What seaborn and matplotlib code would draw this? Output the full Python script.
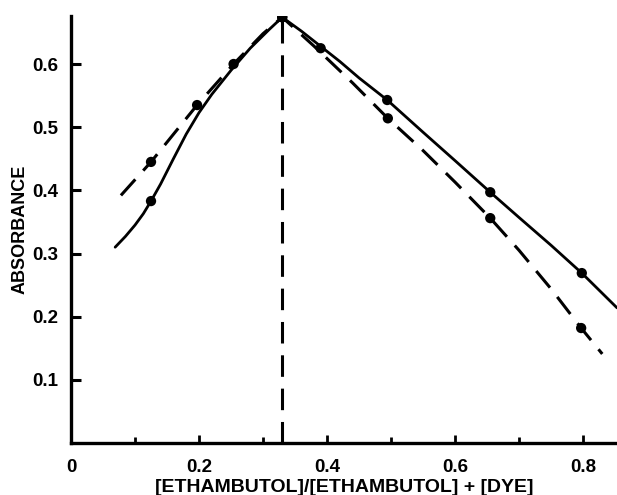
import matplotlib
matplotlib.use("Agg")
import matplotlib.pyplot as plt
import seaborn as sns
import pandas as pd
from matplotlib.ticker import FixedLocator

sns.set_theme(style="white")
plt.rcParams['font.family'] = ['Liberation Sans', 'DejaVu Sans']
plt.rcParams['font.weight'] = 'bold'
plt.rcParams['text.color'] = 'black'
plt.rcParams['axes.labelcolor'] = 'black'
plt.rcParams['xtick.color'] = 'black'
plt.rcParams['ytick.color'] = 'black'
plt.rcParams['lines.scale_dashes'] = False

# --- data ---
# solid curve (trace) and its measured points
solid_curve_x = [0.069, 0.085, 0.10, 0.113, 0.125, 0.14, 0.16, 0.18, 0.20, 0.22, 0.25, 0.28, 0.31, 0.33,
                 0.36, 0.39, 0.42, 0.45, 0.494, 0.55, 0.60, 0.655, 0.70, 0.75, 0.798, 0.853]
solid_curve_y = [0.310, 0.327, 0.345, 0.363, 0.383, 0.410, 0.450, 0.489, 0.523, 0.552, 0.590, 0.625, 0.655, 0.674,
                 0.652, 0.628, 0.604, 0.578, 0.543, 0.492, 0.447, 0.397, 0.357, 0.313, 0.269, 0.214]
solid_pts_x = [0.125, 0.33, 0.494, 0.655, 0.798]
solid_pts_y = [0.383, 0.674, 0.543, 0.397, 0.269]

# dashed curve (trace) and its measured points
dashed_curve_x = [0.078, 0.125, 0.197, 0.254, 0.30, 0.33, 0.38, 0.44, 0.495, 0.55, 0.60, 0.655,
                  0.70, 0.75, 0.797, 0.83]
dashed_curve_y = [0.392, 0.445, 0.535, 0.600, 0.648, 0.674, 0.628, 0.570, 0.514, 0.463, 0.413, 0.356,
                  0.305, 0.244, 0.182, 0.141]
dashed_pts_x = [0.125, 0.197, 0.254, 0.33, 0.39, 0.495, 0.655, 0.797]
dashed_pts_y = [0.445, 0.535, 0.600, 0.674, 0.625, 0.514, 0.356, 0.182]

job_x = 0.33  # vertical dashed line (stoichiometric ratio)

x_major = [0, 0.2, 0.4, 0.6, 0.8]
x_major_labels = ["0", "0.2", "0.4", "0.6", "0.8"]
x_minor = [0.1, 0.3, 0.5, 0.7]
y_major = [0.1, 0.2, 0.3, 0.4, 0.5, 0.6]
y_major_labels = ["0.1", "0.2", "0.3", "0.4", "0.5", "0.6"]

x_label = "[ETHAMBUTOL]/[ETHAMBUTOL] + [DYE]"
y_label = "ABSORBANCE"

# --- figure ---
fig = plt.figure(figsize=(6.17, 4.95), dpi=100)
ax = fig.add_axes([71/617, 52/495, (617-71)/617, (443-16)/495])

solid_df = pd.DataFrame({"x": solid_curve_x, "y": solid_curve_y})
dashed_df = pd.DataFrame({"x": dashed_curve_x, "y": dashed_curve_y})

sns.lineplot(data=solid_df, x="x", y="y", sort=False, estimator=None,
             color="black", linewidth=2.0, ax=ax)
sns.lineplot(data=dashed_df, x="x", y="y", sort=False, estimator=None,
             color="black", linewidth=2.2, ax=ax)
ax.lines[-1].set_dashes((15.5, 8.5))
for ln in ax.lines:
    ln.set_solid_capstyle("round")
    ln.set_solid_joinstyle("round")

sns.scatterplot(x=solid_pts_x, y=solid_pts_y, color="black", s=55,
                edgecolor="none", ax=ax, zorder=5)
sns.scatterplot(x=dashed_pts_x, y=dashed_pts_y, color="black", s=55,
                edgecolor="none", ax=ax, zorder=5)

vl = ax.axvline(job_x, color="black", linewidth=2.2)
vl.set_dashes((15.5, 8.5))

ax.set_xlim(0, 0.853)
ax.set_ylim(0, 0.676)

for s in ["top", "right"]:
    ax.spines[s].set_visible(False)
for s in ["left", "bottom"]:
    ax.spines[s].set_linewidth(2.4)
    ax.spines[s].set_color("black")

ax.xaxis.set_major_locator(FixedLocator(x_major))
ax.set_xticklabels(x_major_labels)
ax.xaxis.set_minor_locator(FixedLocator(x_minor))
ax.yaxis.set_major_locator(FixedLocator(y_major))
ax.set_yticklabels(y_major_labels)

ax.tick_params(axis="x", which="major", direction="in", length=6, width=2,
               labelsize=13.5, pad=11.5, colors="black", bottom=True)
ax.tick_params(axis="x", which="minor", direction="in", length=4.5, width=2,
               bottom=True)
ax.tick_params(axis="y", which="major", direction="in", length=7, width=2.2,
               labelsize=13.5, pad=9, colors="black", left=True)

for lbl in ax.get_xticklabels() + ax.get_yticklabels():
    lbl.set_fontweight("bold")

ax.set_xlabel(x_label, fontsize=14, fontweight="bold", va="center")
ax.xaxis.set_label_coords(0.5, (443 - 487) / 427)
ax.set_ylabel(y_label, fontsize=13, fontweight="bold", va="center")
ax.yaxis.set_label_coords((20 - 71) / 546, 0.5)
ax.grid(False)

fig.savefig("out.png", dpi=100)
